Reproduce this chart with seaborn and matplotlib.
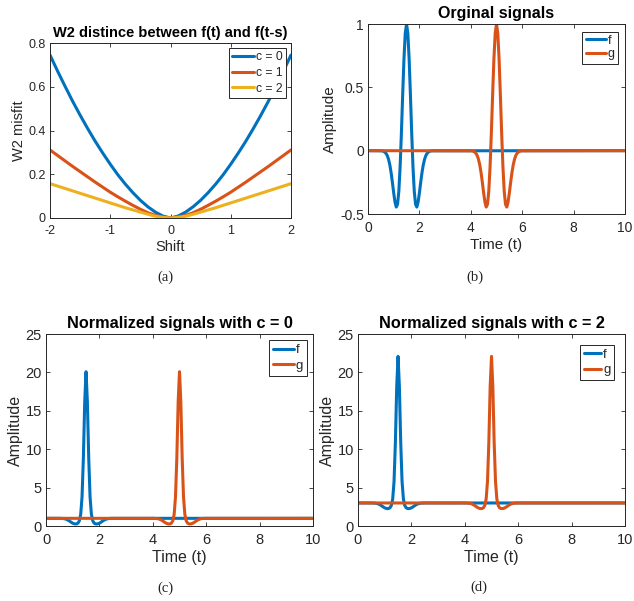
import matplotlib
matplotlib.use("Agg")
import matplotlib.pyplot as plt
import seaborn as sns

# ---------------- data ----------------
# (a) W2 misfit vs shift
shift = [-2.0, -1.875, -1.75, -1.625, -1.5, -1.375, -1.25, -1.125, -1.0, -0.875, -0.75, -0.625,
         -0.5, -0.375, -0.25, -0.125, 0.0, 0.125, 0.25, 0.375, 0.5, 0.625, 0.75, 0.875,
         1.0, 1.125, 1.25, 1.375, 1.5, 1.625, 1.75, 1.875, 2.0]
w2_c0 = [0.745, 0.672, 0.602, 0.534, 0.470, 0.409, 0.351, 0.297, 0.246, 0.198, 0.155, 0.116,
         0.081, 0.0512, 0.0267, 0.0088, 0.0, 0.0088, 0.0267, 0.0512, 0.081, 0.116, 0.155, 0.198,
         0.246, 0.297, 0.351, 0.409, 0.470, 0.534, 0.602, 0.672, 0.745]
w2_c1 = [0.311, 0.286, 0.261, 0.236, 0.212, 0.188, 0.164, 0.141, 0.118, 0.097, 0.077, 0.058,
         0.040, 0.024, 0.012, 0.004, 0.0, 0.004, 0.012, 0.024, 0.040, 0.058, 0.077, 0.097,
         0.118, 0.141, 0.164, 0.188, 0.212, 0.236, 0.261, 0.286, 0.311]
w2_c2 = [0.157, 0.146, 0.135, 0.124, 0.113, 0.102, 0.091, 0.080, 0.069, 0.058, 0.047, 0.037,
         0.027, 0.017, 0.008, 0.003, 0.0, 0.003, 0.008, 0.017, 0.027, 0.037, 0.047, 0.058,
         0.069, 0.080, 0.091, 0.102, 0.113, 0.124, 0.135, 0.146, 0.157]
c_labels = ["c = 0", "c = 1", "c = 2"]

# (b)-(d) signals: pulse samples around the pulse centre
f_center = 1.5
g_center = 5.0
t_start, t_end = 0.0, 10.0
pulse_offsets = [-1.0, -0.95, -0.9, -0.85, -0.8, -0.75, -0.7, -0.65, -0.6, -0.55, -0.5, -0.45,
                 -0.4, -0.35, -0.3, -0.25, -0.2, -0.15, -0.1, -0.05, 0.0, 0.05, 0.1, 0.15,
                 0.2, 0.25, 0.3, 0.35, 0.4, 0.45, 0.5, 0.55, 0.6, 0.65, 0.7, 0.75, 0.8,
                 0.85, 0.9, 0.95, 1.0]
wave_raw = [-0.001, -0.002, -0.005, -0.011, -0.021, -0.039, -0.069, -0.113, -0.175, -0.251,
            -0.334, -0.406, -0.445, -0.423, -0.320, -0.126, 0.142, 0.445, 0.727, 0.927, 1.000,
            0.927, 0.727, 0.445, 0.142, -0.126, -0.320, -0.423, -0.445, -0.406, -0.334, -0.251,
            -0.175, -0.113, -0.069, -0.039, -0.021, -0.011, -0.005, -0.002, -0.001]
wave_c0 = [0.997, 0.994, 0.985, 0.968, 0.939, 0.890, 0.813, 0.712, 0.592, 0.471, 0.367, 0.296,
           0.263, 0.281, 0.383, 0.685, 1.53, 3.80, 8.86, 16.13, 20.09, 16.13, 8.86, 3.80, 1.53,
           0.685, 0.383, 0.281, 0.263, 0.296, 0.367, 0.471, 0.592, 0.712, 0.813, 0.890, 0.939,
           0.968, 0.985, 0.994, 0.997]
wave_c2 = [2.997, 2.994, 2.985, 2.968, 2.939, 2.890, 2.813, 2.712, 2.592, 2.471, 2.367, 2.296,
           2.263, 2.281, 2.383, 2.685, 3.53, 5.80, 10.86, 18.13, 22.09, 18.13, 10.86, 5.80, 3.53,
           2.685, 2.383, 2.281, 2.263, 2.296, 2.367, 2.471, 2.592, 2.712, 2.813, 2.890, 2.939,
           2.968, 2.985, 2.994, 2.997]
baseline_raw, baseline_c0, baseline_c2 = 0.0, 1.0, 3.0

titles = ["W2 distince between f(t) and f(t-s)", "Orginal signals",
          "Normalized signals with c = 0", "Normalized signals with c = 2"]
captions = ["(a)", "(b)", "(c)", "(d)"]

# ---------------- style ----------------
sns.set_style("ticks")
plt.rcParams["font.family"] = ["Liberation Sans", "DejaVu Sans"]
plt.rcParams["axes.unicode_minus"] = False
plt.rcParams["axes.edgecolor"] = "#262626"
plt.rcParams["xtick.color"] = "#262626"
plt.rcParams["ytick.color"] = "#262626"

BLUE, RED, YEL = "#0072BD", "#D95319", "#EDB120"
LW = 2.2

W, H = 634, 601
fig = plt.figure(figsize=(W / 100, H / 100), dpi=100)


def add_ax(x0, y0, x1, y1):
    return fig.add_axes([x0 / W, 1 - y1 / H, (x1 - x0) / W, (y1 - y0) / H])


def style(ax, tick_fs, lab_fs, title, title_fs, xlabel, ylabel):
    ax.tick_params(direction="in", top=True, right=True, length=3, width=0.6,
                   labelsize=tick_fs)
    ax.tick_params(axis="x", pad=5)
    ax.tick_params(axis="y", pad=3)
    for s in ax.spines.values():
        s.set_linewidth(0.7)
        s.set_visible(True)
    ax.set_title(title, fontsize=title_fs, fontweight="bold", pad=4, color="black")
    ax.set_xlabel(xlabel, fontsize=lab_fs, color="#262626", labelpad=2)
    ax.set_ylabel(ylabel, fontsize=lab_fs, color="#262626", labelpad=2)


def legend(ax, fs, hl, ls, bp, bap):
    leg = ax.legend(loc="upper right", fontsize=fs, frameon=True, fancybox=False,
                    framealpha=1, edgecolor="#262626", handlelength=hl,
                    handletextpad=0.15, borderpad=bp, labelspacing=ls,
                    borderaxespad=bap)
    leg.get_frame().set_linewidth(0.7)


def signal(center, values, base):
    xs = [t_start] + [center + o for o in pulse_offsets] + [t_end]
    ys = [base] + list(values) + [base]
    return xs, ys


# (a)
ax = add_ax(50, 43, 291, 218)
for ys, col, lab in zip([w2_c0, w2_c1, w2_c2], [BLUE, RED, YEL], c_labels):
    sns.lineplot(x=shift, y=ys, color=col, lw=LW, label=lab, ax=ax)
ax.set_xlim(-2, 2)
ax.set_ylim(0, 0.8)
ax.set_xticks([-2, -1, 0, 1, 2])
ax.set_xticklabels(["-2", "-1", "0", "1", "2"])
ax.set_yticks([0, 0.2, 0.4, 0.6, 0.8])
ax.set_yticklabels(["0", "0.2", "0.4", "0.6", "0.8"])
style(ax, 9, 10.5, titles[0], 10.5, "Shift", "W2 misfit")
legend(ax, 8.7, 1.8, 0.3, 0.25, 0.45)

# (b)-(d)
panels = [
    ((368, 24, 625, 214), wave_raw, baseline_raw, (-0.5, 1), [-0.5, 0, 0.5, 1],
     ["-0.5", "0", "0.5", "1"], titles[1], (10, 11, 11.5), (9, 1.6, 0.15, 0.25, 0.6)),
    ((46, 334, 313, 526), wave_c0, baseline_c0, (0, 25), [0, 5, 10, 15, 20, 25],
     ["0", "5", "10", "15", "20", "25"], titles[2], (10.5, 11.5, 11.7), (9.5, 1.6, 0.25, 0.3, 0.45)),
    ((358, 334, 625, 526), wave_c2, baseline_c2, (0, 25), [0, 5, 10, 15, 20, 25],
     ["0", "5", "10", "15", "20", "25"], titles[3], (10.5, 11.5, 11.7), (9.5, 1.3, 0.25, 0.3, 0.8)),
]
for box, vals, base, ylim, yt, ytl, title, fs, lg in panels:
    ax = add_ax(*box)
    xf, yf = signal(f_center, vals, base)
    xg, yg = signal(g_center, vals, base)
    sns.lineplot(x=xf, y=yf, color=BLUE, lw=LW, label="f", ax=ax, sort=False)
    sns.lineplot(x=xg, y=yg, color=RED, lw=LW, label="g", ax=ax, sort=False)
    ax.set_xlim(0, 10)
    ax.set_ylim(*ylim)
    ax.set_xticks([0, 2, 4, 6, 8, 10])
    ax.set_xticklabels(["0", "2", "4", "6", "8", "10"])
    ax.set_yticks(yt)
    ax.set_yticklabels(ytl)
    style(ax, fs[0], fs[1], title, fs[2], "Time (t)", "Amplitude")
    legend(ax, *lg)

# captions
for (cx, cy), cap in zip([(165, 277), (475, 277), (165, 588), (479, 587)], captions):
    fig.text(cx / W, 1 - cy / H, cap, ha="center", va="center",
             family="Liberation Serif", fontsize=10.5, color="#222222")

fig.savefig("out.png", dpi=100, facecolor="white")
